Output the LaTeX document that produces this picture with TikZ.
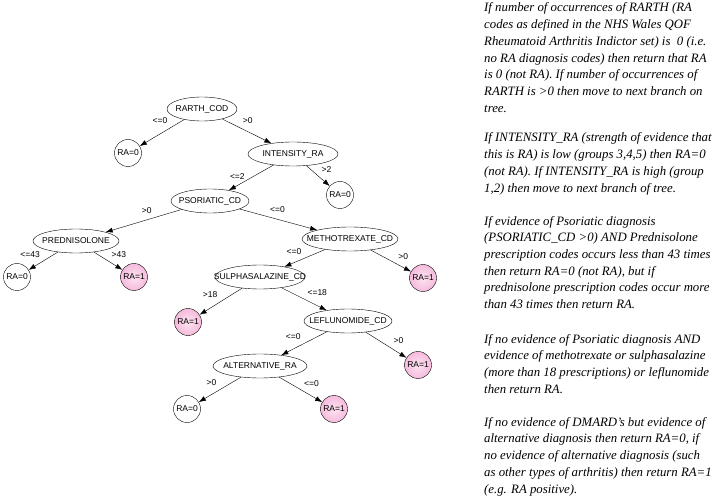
\documentclass[tikz,border=0pt]{standalone}
\usepackage{fontspec}
\setmainfont{Liberation Serif}
\setsansfont{Liberation Sans}
\usepackage{tikz}
\usetikzlibrary{shapes.geometric,arrows.meta,positioning}
\usepackage{xcolor}
\definecolor{rapink}{RGB}{245,186,220}
\definecolor{rapinklight}{RGB}{253,228,241}
\newcommand{\testname}[1]{\makebox[0pt]{#1}}

\begin{document}
\begin{tikzpicture}[x=1pt,y=-1pt,>={Latex[length=7pt,width=5pt]},auto,thin,on grid,
  font=\sffamily\fontsize{8.5}{10}\selectfont]
\tikzstyle{test} = [draw, ellipse, inner sep=0pt, minimum height=24pt]
\tikzstyle{leaf} = [draw, circle, inner sep=0pt, minimum size=27pt]
\tikzstyle{ra} = [leaf, inner color=rapinklight, outer color=rapink]
\tikzstyle{rule} = [anchor=base west, align=left, inner sep=0pt,
  font=\rmfamily\itshape\fontsize{12.8}{16.75}\selectfont]

\useasboundingbox (0,0) rectangle (716,500);

\node[test, minimum width=70pt] (rarth) at (202,109)          {\testname{RARTH\_COD}};
\node[leaf]  (ra0a)  [below left=44pt and 74pt of rarth]      {RA=0};
\node[test, minimum width=90pt] (intens) [below right=45pt and 91pt of rarth] {\testname{INTENSITY\_RA}};
\node[test, minimum width=78pt] (psor) [below left=47pt and 83pt of intens]   {\testname{PSORIATIC\_CD}};
\node[leaf]  (ra0b)  [below right=41pt and 47pt of intens]    {RA=0};
\node[test, minimum width=86pt] (pred) [below left=40pt and 134pt of psor]    {\testname{PREDNISOLONE}};
\node[test, minimum width=96pt] (meth) [below right=38pt and 140pt of psor]   {\testname{METHOTREXATE\_CD}};
\node[leaf]  (ra0c)  [below left=36pt and 59pt of pred]       {RA=0};
\node[ra]    (ra1a)  [below right=36pt and 58pt of pred]      {RA=1};
\node[test, minimum width=90pt] (sulph) [below left=38pt and 90pt of meth]    {\testname{SULPHASALAZINE\_CD}};
\node[ra]    (ra1b)  [below right=39pt and 73pt of meth]      {RA=1};
\node[ra]    (ra1c)  [below left=45pt and 72pt of sulph]      {RA=1};
\node[test, minimum width=88pt] (lef) [below right=44pt and 88pt of sulph]    {\testname{LEFLUNOMIDE\_CD}};
\node[test, minimum width=94pt] (alt) [below left=45pt and 88pt of lef]       {\testname{ALTERNATIVE\_RA}};
\node[ra]    (ra1d)  [below right=44pt and 70pt of lef]       {RA=1};
\node[leaf]  (ra0d)  [below left=43pt and 73pt of alt]        {RA=0};
\node[ra]    (ra1e)  [below right=43pt and 74pt of alt]       {RA=1};

\path[->]
(rarth)  edge[swap] node[pos=0.3]  {<=0}  (ra0a)
         edge       node[pos=0.35] {>0}   (intens)
(intens) edge[swap] node[pos=0.62, inner sep=1pt] {<=2}  (psor)
         edge       node{>2}   (ra0b)
(psor)   edge[swap] node[pos=0.35] {>0}   (pred)
         edge       node[pos=0.35] {<=0}  (meth)
(pred)   edge[swap] node{<=43} (ra0c)
         edge       node{>43}  (ra1a)
(meth)   edge[swap] node{<=0}  (sulph)
         edge       node[pos=0.6] {>0}   (ra1b)
(sulph)  edge[swap] node{>18}  (ra1c)
         edge       node{<=18} (lef)
(lef)    edge[swap] node{<=0}  (alt)
         edge       node[pos=0.6] {>0}   (ra1d)
(alt)    edge[swap] node{>0}   (ra0d)
         edge       node{<=0}  (ra1e);

% explanation of each branch
\node[rule] (why1) at (484,112.5) {If number of occurrences of RARTH (RA\\
codes as defined in the NHS Wales QOF\\
Rheumatoid Arthritis Indictor set) is \ 0 (i.e.\\
no RA diagnosis codes) then return that RA\\
is 0 (not RA). If number of occurrences of\\
RARTH is >0 then move to next branch on\\
tree.};
\node[rule] (why2) at (484,192.25) {If INTENSITY\_RA (strength of evidence that\\
this is RA) is low (groups 3,4,5) then RA=0\\
(not RA). If INTENSITY\_RA is high (group\\
1,2) then move to next branch of tree.};
\node[rule] (why3) at (484,308.75) {If evidence of Psoriatic diagnosis\\
(PSORIATIC\_CD >0) AND Prednisolone\\
prescription codes occurs less than 43 times\\
then return RA=0 (not RA), but if\\
prednisolone prescription codes occur more\\
than 43 times then return RA.};
\node[rule] (why4) at (484,393.25) {If no evidence of Psoriatic diagnosis AND\\
evidence of methotrexate or sulphasalazine\\
(more than 18 prescriptions) or leflunomide\\
then return RA.};
\node[rule] (why5) at (484,493) {If no evidence of DMARD’s but evidence of\\
alternative diagnosis then return RA=0, if\\
no evidence of alternative diagnosis (such\\
as other types of arthritis) then return RA=1\\
(e.g. RA positive).};
\end{tikzpicture}
\end{document}
